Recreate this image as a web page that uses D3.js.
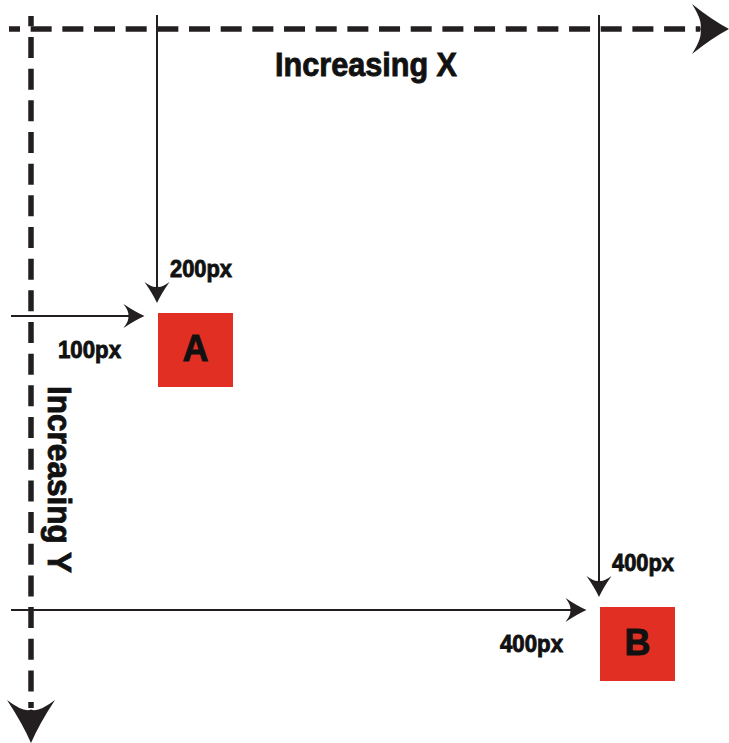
<!DOCTYPE html>
<html>
<head>
<meta charset="utf-8">
<script src="https://cdn.jsdelivr.net/npm/d3@7"></script>
<style>
  html, body { margin: 0; padding: 0; background: #fff; }
  text { font-family: "Liberation Sans", Arial, sans-serif; font-weight: bold; fill: #111; stroke: #111; stroke-width: 0.9; }
</style>
</head>
<body>
<svg id="chart" width="729" height="743"></svg>
<script>
// points on the page and the distances they sit at
var names = ["A", "B"];
var xValues = [100, 400];
var yValues = [200, 400];
var xLabels = ["100px", "400px"];
var yLabels = ["200px", "400px"];
var axisTitles = ["Increasing X", "Increasing Y"];

var ink = "#231f20";
var red = "#e13023";
var box = 75;

var svg = d3.select("#chart");

// drawing is not to scale, so the scales are piecewise
var x = d3.scaleLinear().domain([0, 100, 400]).range([31, 158, 600]);
var y = d3.scaleLinear().domain([0, 200, 400]).range([29, 313, 607]);

// swept arrow head, tip at 0,0 pointing right
function arrowPath(L, W) {
    var p = d3.path();
    p.moveTo(0, 0);
    p.quadraticCurveTo(-0.45 * L, -0.35 * W, -L, -W);
    p.quadraticCurveTo(-0.7 * L, -0.3 * W, -0.78 * L, 0);
    p.quadraticCurveTo(-0.7 * L, 0.3 * W, -L, W);
    p.quadraticCurveTo(-0.45 * L, 0.35 * W, 0, 0);
    p.closePath();
    return p.toString();
}
function drawArrow(tx, ty, angle, L, W) {
    svg.append("path")
        .attr("d", arrowPath(L, W))
        .attr("fill", ink)
        .attr("transform", "translate(" + tx + "," + ty + ") rotate(" + angle + ")");
}

// dashed axes
var x0 = x(0), y0 = y(0);
svg.append("line")
    .attr("x1", 9).attr("y1", y0).attr("x2", 700).attr("y2", y0)
    .attr("stroke", ink).attr("stroke-width", 5.5)
    .attr("stroke-dasharray", "21 10.67").attr("stroke-dashoffset", 10);
drawArrow(729, y0, 0, 37, 25);

svg.append("line")
    .attr("x1", x0).attr("y1", 16).attr("x2", x0).attr("y2", 708)
    .attr("stroke", ink).attr("stroke-width", 5.5)
    .attr("stroke-dasharray", "21 10.67").attr("stroke-dashoffset", 10.67);
drawArrow(x0, 743, 90, 43, 24);

svg.append("text")
    .attr("x", 275).attr("y", 76)
    .attr("font-size", 34)
    .attr("textLength", 182).attr("lengthAdjust", "spacingAndGlyphs")
    .text(axisTitles[0]);

svg.append("text")
    .attr("transform", "translate(48,386) rotate(90)")
    .attr("font-size", 34)
    .attr("textLength", 187).attr("lengthAdjust", "spacingAndGlyphs")
    .text(axisTitles[1]);

// each point: arrows from the axes, labels, red box
names.forEach(function (name, i) {
    var left = x(xValues[i]);
    var top = y(yValues[i]);

    // vertical arrow (distance from top)
    var vx = left - 1, vTip = top - 10;
    svg.append("line")
        .attr("x1", vx).attr("y1", 15).attr("x2", vx).attr("y2", vTip - 8)
        .attr("stroke", ink).attr("stroke-width", 2);
    drawArrow(vx, vTip, 90, 21, 12.5);

    // horizontal arrow (distance from left)
    var hy = top + 3, hTip = left - 13.5;
    svg.append("line")
        .attr("x1", 11).attr("y1", hy).attr("x2", hTip - 8).attr("y2", hy)
        .attr("stroke", ink).attr("stroke-width", 2);
    drawArrow(hTip, hy, 0, 21, 12);

    svg.append("text")
        .attr("x", left + 12).attr("y", top - 36)
        .attr("font-size", 24)
        .attr("textLength", 62).attr("lengthAdjust", "spacingAndGlyphs")
        .text(yLabels[i]);

    svg.append("text")
        .attr("x", left - 100).attr("y", top + 45)
        .attr("font-size", 24)
        .attr("textLength", 63).attr("lengthAdjust", "spacingAndGlyphs")
        .text(xLabels[i]);

    svg.append("rect")
        .attr("x", left).attr("y", top)
        .attr("width", box).attr("height", box - 1)
        .attr("fill", red);

    svg.append("text")
        .attr("x", left + box / 2).attr("y", top + 48)
        .attr("text-anchor", "middle")
        .attr("font-size", 36)
        .text(name);
});
</script>
</body>
</html>
